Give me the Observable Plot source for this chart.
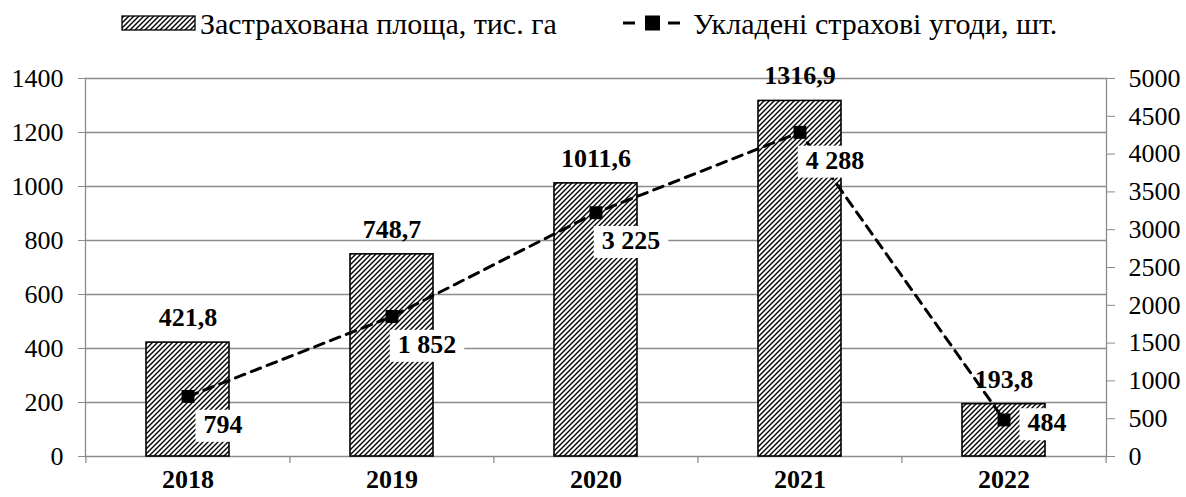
<!DOCTYPE html>
<html><head><meta charset="utf-8">
<script src="https://cdn.jsdelivr.net/npm/d3@7"></script>
<script src="https://cdn.jsdelivr.net/npm/@observablehq/plot@0.6"></script>
<style>
body{margin:0;background:#fff;font-family:"Liberation Serif","Times New Roman",serif;}
#legend{display:block;}
#chart svg{display:block;}
</style></head><body>
<svg id="legend" width="1186" height="45"></svg>
<div id="chart"></div>
<script>
// ---- data ----
const years = ["2018", "2019", "2020", "2021", "2022"];
const area = [421.8, 748.7, 1011.6, 1316.9, 193.8];          // тис. га (left axis)
const contracts = [794, 1852, 3225, 4288, 484];               // шт. (right axis)
const leftTicks = [0, 200, 400, 600, 800, 1000, 1200, 1400];
const rightTicks = [0, 500, 1000, 1500, 2000, 2500, 3000, 3500, 4000, 4500, 5000];
const seriesNames = ["Застрахована площа, тис. га", "Укладені страхові угоди, шт."];

const leftMax = 1400, rightMax = 5000;
const ratio = leftMax / rightMax;
const rows = years.map((y, i) => ({year: y, area: area[i], contracts: contracts[i]}));

const loc = d3.formatLocale({decimal: ",", thousands: " ", grouping: [3], currency: ["", ""]});
const fmtArea = loc.format(".1f");
const fmtCount = loc.format(",d");

const W = 1186, H = 452;
const mL = 85, mR = 80, mT = 33, mB = 41;
const halfStep = (W - mL - mR) / years.length / 2;
const gray = "#8c8c8c";
const serif = "Liberation Serif, Times New Roman, serif";

const plot = Plot.plot({
  width: W, height: H,
  marginTop: mT, marginBottom: mB, marginLeft: mL, marginRight: mR,
  style: {fontFamily: serif, fontSize: "26px", color: "black", background: "white"},
  x: {domain: years, paddingInner: 0.594, paddingOuter: 0.297},
  y: {domain: [0, leftMax]},
  marks: [
    Plot.gridY(leftTicks, {stroke: gray, strokeOpacity: 1, strokeWidth: 1.3}),
    Plot.frame({anchor: "left", stroke: gray, strokeWidth: 1.3}),
    Plot.frame({anchor: "right", stroke: gray, strokeWidth: 1.3}),
    Plot.ruleX(years, {x: d => d, dx: -halfStep, y1: 0, y2: 0, insetTop: 7, stroke: gray, strokeWidth: 1.3}),
    Plot.ruleX(years.slice(-1), {x: d => d, dx: halfStep, y1: 0, y2: 0, insetTop: 7, stroke: gray, strokeWidth: 1.3}),
    Plot.axisY(leftTicks, {anchor: "left", tickSize: 7, tickPadding: 15, stroke: gray, fontSize: 26,
      tickFormat: d => String(d), label: null}),
    Plot.axisY(rightTicks.map(v => v * ratio), {anchor: "right", tickSize: 8, tickPadding: 14, stroke: gray, fontSize: 26,
      tickFormat: v => String(Math.round(v / ratio)), label: null}),
    Plot.axisX({tickSize: 0, tickPadding: 13, fontWeight: "bold", fontSize: 26, label: null}),
    Plot.barY(rows, {x: "year", y: "area", fill: "url(#hatch)", stroke: "black", strokeWidth: 1.6}),
    Plot.text(rows, {x: "year", y: "area", text: d => fmtArea(d.area), dy: -25, fontWeight: "bold", fontSize: 26}),
    Plot.line(rows, {x: "year", y: d => d.contracts * ratio, stroke: "black", strokeWidth: 3, strokeDasharray: "10,7"}),
    Plot.dot(rows, {x: "year", y: d => d.contracts * ratio, symbol: "square", r: 7.3, fill: "black"}),
    Plot.text(rows.slice(0, 4), {x: "year", y: d => d.contracts * ratio, text: d => fmtCount(d.contracts),
      dx: 35, dy: 28, fontWeight: "bold", fontSize: 26}),
    Plot.text(rows.slice(4), {x: "year", y: d => d.contracts * ratio, text: d => fmtCount(d.contracts),
      dx: 43, dy: 3, fontWeight: "bold", fontSize: 26})
  ]
});

document.getElementById("chart").appendChild(plot);

function addHatch(svgSel, id) {
  const p = svgSel.insert("defs", ":first-child").append("pattern")
    .attr("id", id).attr("patternUnits", "userSpaceOnUse").attr("width", 5).attr("height", 5);
  p.append("rect").attr("width", 5).attr("height", 5).attr("fill", "white");
  p.append("path").attr("d", "M-1,1 l2,-2 M0,5 l5,-5 M4,6 l2,-2")
    .attr("stroke", "black").attr("stroke-width", 1.4);
}
const svgSel = d3.select(plot);
addHatch(svgSel, "hatch");

// white boxes behind line (count) labels
const countLabels = new Set(contracts.map(fmtCount));
const svgRect = plot.getBoundingClientRect();
const labelNodes = Array.from(plot.querySelectorAll("text")).filter(t => countLabels.has(t.textContent));
if (labelNodes.length) {
  const firstGroup = labelNodes[0].parentNode;
  const boxes = d3.select(firstGroup.parentNode).insert("g", () => firstGroup);
  labelNodes.forEach(t => {
    const r = t.getBoundingClientRect();
    boxes.append("rect")
      .attr("x", r.left - svgRect.left - 8).attr("y", r.top - svgRect.top)
      .attr("width", r.width + 16).attr("height", r.height + 3)
      .attr("fill", "white");
  });
}

// legend
const lg = d3.select("#legend");
addHatch(lg, "hatchL");
lg.append("rect").attr("x", 122).attr("y", 16).attr("width", 73).attr("height", 14)
  .attr("fill", "url(#hatchL)").attr("stroke", "black").attr("stroke-width", 1.3);
lg.append("text").attr("x", 200).attr("y", 23).attr("dy", "0.35em")
  .attr("font-family", serif).attr("font-size", 30).text(seriesNames[0]);
lg.append("line").attr("x1", 623).attr("x2", 635).attr("y1", 23).attr("y2", 23).attr("stroke", "black").attr("stroke-width", 3);
lg.append("line").attr("x1", 668).attr("x2", 680).attr("y1", 23).attr("y2", 23).attr("stroke", "black").attr("stroke-width", 3);
lg.append("rect").attr("x", 645).attr("y", 15.5).attr("width", 15).attr("height", 15).attr("fill", "black");
lg.append("text").attr("x", 693).attr("y", 23).attr("dy", "0.35em")
  .attr("font-family", serif).attr("font-size", 30).text(seriesNames[1]);
</script>
</body></html>
